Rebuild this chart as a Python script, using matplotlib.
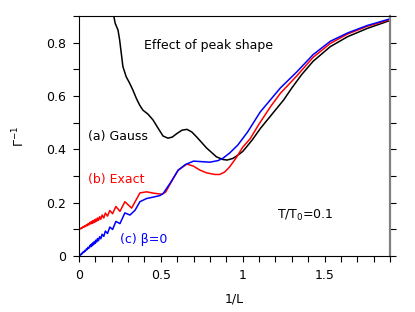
import numpy as np
import matplotlib
matplotlib.use("Agg")
import matplotlib.pyplot as plt
from matplotlib.ticker import MultipleLocator, FormatStrFormatter

# (a) Gauss
gauss_x = [0.205, 0.214, 0.222, 0.239, 0.249, 0.259, 0.269, 0.289, 0.31, 0.33, 0.351, 0.371,
           0.391, 0.422, 0.453, 0.483, 0.514, 0.544, 0.57, 0.60, 0.63, 0.66, 0.69, 0.72,
           0.78, 0.84, 0.88, 0.905, 0.94, 0.97, 1.0, 1.03, 1.058, 1.11, 1.19, 1.25, 1.30, 1.36,
           1.43, 1.535, 1.64, 1.76, 1.90]
gauss_y = [0.93, 0.897, 0.872, 0.847, 0.81, 0.76, 0.71, 0.672, 0.648, 0.622, 0.591, 0.566,
           0.547, 0.532, 0.51, 0.48, 0.45, 0.442, 0.446, 0.46, 0.472, 0.475, 0.465, 0.446,
           0.405, 0.372, 0.362, 0.360, 0.366, 0.378, 0.392, 0.414, 0.435, 0.48, 0.54, 0.585, 0.63, 0.68,
           0.73, 0.785, 0.822, 0.853, 0.883]

# (b) Exact
exact_x = [0.0, 0.006, 0.011, 0.016, 0.021, 0.026, 0.031, 0.036, 0.041, 0.046, 0.051, 0.056,
           0.061, 0.066, 0.071, 0.073, 0.076, 0.079, 0.082, 0.085, 0.088, 0.091, 0.095, 0.0995,
           0.104, 0.109, 0.114, 0.120, 0.127, 0.134, 0.142, 0.152, 0.162, 0.175, 0.189, 0.206,
           0.226, 0.251, 0.281, 0.322, 0.373, 0.414, 0.455, 0.506, 0.53, 0.557, 0.606, 0.66,
           0.70, 0.74, 0.78, 0.83, 0.86, 0.89, 0.92, 0.96, 1.0, 1.046, 1.10, 1.17, 1.23, 1.33,
           1.43, 1.535, 1.64, 1.76, 1.90]
exact_y = [0.100, 0.104, 0.102, 0.107, 0.105, 0.111, 0.108, 0.114, 0.111, 0.118, 0.114, 0.1215,
           0.117, 0.125, 0.127, 0.1206, 0.1286, 0.1226, 0.131, 0.124, 0.133, 0.126, 0.136, 0.128,
           0.139, 0.131, 0.143, 0.134, 0.148, 0.138, 0.154, 0.143, 0.1615, 0.150, 0.171, 0.159,
           0.186, 0.168, 0.204, 0.180, 0.237, 0.241, 0.236, 0.232, 0.240, 0.270, 0.322, 0.345,
           0.337, 0.322, 0.312, 0.306, 0.306, 0.315, 0.334, 0.368, 0.408, 0.44, 0.495, 0.56, 0.61, 0.675,
           0.745, 0.797, 0.832, 0.861, 0.886]

# (c) beta = 0
beta0_x = [0.0, 0.006, 0.011, 0.016, 0.021, 0.026, 0.031, 0.036, 0.041, 0.046, 0.051, 0.056,
           0.061, 0.066, 0.071, 0.073, 0.076, 0.079, 0.082, 0.085, 0.088, 0.091, 0.095, 0.0995,
           0.104, 0.109, 0.114, 0.120, 0.127, 0.134, 0.142, 0.152, 0.162, 0.175, 0.189, 0.206,
           0.226, 0.251, 0.281, 0.312, 0.343, 0.373, 0.414, 0.453, 0.495, 0.514, 0.557, 0.606,
           0.65, 0.70, 0.75, 0.80, 0.85, 0.88, 0.92, 0.97, 1.03, 1.107, 1.23, 1.33, 1.43,
           1.535, 1.64, 1.76, 1.90]
beta0_y = [0.000, 0.005, 0.004, 0.0105, 0.009, 0.016, 0.014, 0.0216, 0.019, 0.027, 0.0245, 0.033,
           0.029, 0.038, 0.041, 0.035, 0.044, 0.038, 0.0475, 0.041, 0.051, 0.044, 0.055, 0.048,
           0.060, 0.053, 0.066, 0.058, 0.073, 0.065, 0.082, 0.074, 0.094, 0.085, 0.109, 0.100,
           0.130, 0.122, 0.162, 0.154, 0.172, 0.204, 0.216, 0.221, 0.227, 0.234, 0.273, 0.322,
           0.343, 0.356, 0.354, 0.352, 0.358, 0.367, 0.386, 0.416, 0.465, 0.54, 0.63, 0.69, 0.755,
           0.805, 0.836, 0.864, 0.889]

fig = plt.figure(figsize=(4.15, 3.12), dpi=100)
ax = fig.add_axes([0.190, 0.179, 0.750, 0.770])

ax.plot(gauss_x, gauss_y, color="black", lw=1.1)
ax.plot(exact_x, exact_y, color="red", lw=1.1)
ax.plot(beta0_x, beta0_y, color="blue", lw=1.1)

ax.set_xlim(0, 1.9)
ax.set_ylim(0, 0.9)
ax.xaxis.set_major_locator(MultipleLocator(0.5))
ax.xaxis.set_minor_locator(MultipleLocator(0.1))
ax.yaxis.set_major_locator(MultipleLocator(0.2))
ax.yaxis.set_minor_locator(MultipleLocator(0.1))
ax.xaxis.set_major_formatter(FormatStrFormatter("%g"))
ax.yaxis.set_major_formatter(FormatStrFormatter("%g"))
ax.tick_params(which="both", direction="out", length=4, width=0.8, labelsize=9,
               top=False, right=True, pad=5)
ax.tick_params(axis="y", which="both", labelright=False)
ax.spines["right"].set_color("gray")
ax.spines["right"].set_linewidth(1.6)
# gray ticks on the right side only
for line in ax.yaxis.get_majorticklines()[1::2] + ax.yaxis.get_minorticklines()[1::2]:
    line.set_color("gray")

ax.set_xlabel("1/L", fontsize=9, labelpad=8)
ax.set_ylabel("$\\Gamma^{-1}$", fontsize=9, labelpad=14)

ax.text(0.40, 0.775, "Effect of peak shape", fontsize=9, color="black")
ax.text(0.055, 0.435, "(a) Gauss", fontsize=9, color="black")
ax.text(0.055, 0.275, "(b) Exact", fontsize=9, color="red")
ax.text(0.25, 0.05, "(c) β=0", fontsize=9, color="blue")
ax.text(1.21, 0.14, "T/T$_0$=0.1", fontsize=9, color="black")

fig.savefig("out.png", dpi=100)
